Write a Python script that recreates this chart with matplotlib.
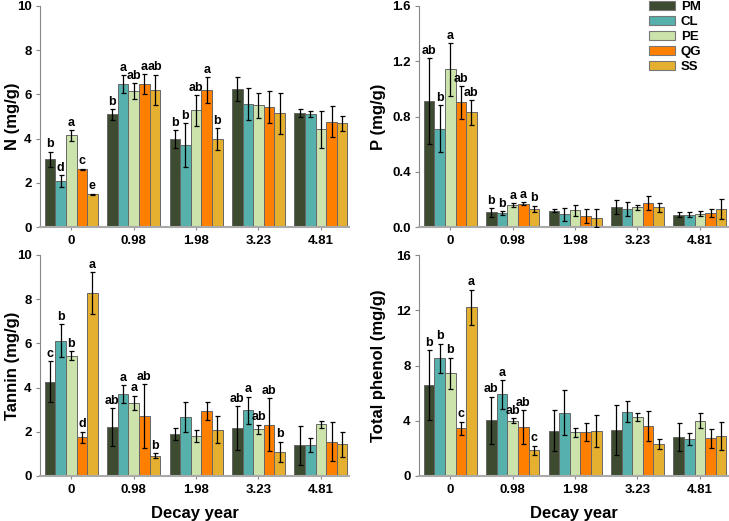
import numpy as np
import matplotlib
matplotlib.use("Agg")
import matplotlib.pyplot as plt

plt.rcParams['font.family'] = ['Liberation Sans', 'DejaVu Sans']
plt.rcParams['font.weight'] = 'bold'

years = ["0", "0.98", "1.98", "3.23", "4.81"]
species = ["PM", "CL", "PE", "QG", "SS"]
colors = ["#3d4b30", "#56b0ac", "#cce3ac", "#ff8000", "#e5b030"]

#-- values per species, one entry per decay year
n_mean = {
    "PM": [3.06, 5.10, 3.98, 6.24, 5.17],
    "CL": [2.08, 6.46, 3.70, 5.58, 5.10],
    "PE": [4.15, 6.14, 5.28, 5.50, 4.42],
    "QG": [2.61, 6.46, 6.20, 5.44, 4.77],
    "SS": [1.49, 6.20, 3.98, 5.14, 4.69],
}
n_err = {
    "PM": [0.35, 0.24, 0.40, 0.56, 0.17],
    "CL": [0.27, 0.40, 1.00, 0.73, 0.14],
    "PE": [0.24, 0.36, 0.70, 0.56, 0.85],
    "QG": [0.03, 0.46, 0.57, 0.73, 0.70],
    "SS": [0.02, 0.70, 0.48, 0.94, 0.35],
}
n_letters = [["b", "d", "a", "c", "e"],
             ["b", "a", "ab", "a", "ab"],
             ["b", "b", "ab", "a", "b"], None, None]

p_mean = {
    "PM": [0.912, 0.106, 0.118, 0.142, 0.089],
    "CL": [0.712, 0.099, 0.092, 0.128, 0.089],
    "PE": [1.141, 0.159, 0.121, 0.142, 0.097],
    "QG": [0.902, 0.169, 0.082, 0.171, 0.099],
    "SS": [0.830, 0.130, 0.068, 0.142, 0.130],
}
p_err = {
    "PM": [0.31, 0.030, 0.010, 0.050, 0.020],
    "CL": [0.17, 0.015, 0.045, 0.050, 0.020],
    "PE": [0.19, 0.015, 0.040, 0.020, 0.020],
    "QG": [0.12, 0.012, 0.050, 0.050, 0.030],
    "SS": [0.09, 0.025, 0.065, 0.030, 0.070],
}
p_letters = [["ab", "b", "a", "ab", "ab"],
             ["b", "b", "a", "a", "b"], None, None, None]

tan_mean = {
    "PM": [4.26, 2.20, 1.90, 2.17, 1.40],
    "CL": [6.13, 3.70, 2.67, 2.97, 1.40],
    "PE": [5.45, 3.32, 1.81, 2.11, 2.34],
    "QG": [1.75, 2.72, 2.93, 2.32, 1.55],
    "SS": [8.29, 0.92, 2.10, 1.10, 1.43],
}
tan_err = {
    "PM": [0.93, 0.86, 0.26, 1.00, 0.88],
    "CL": [0.74, 0.40, 0.70, 0.62, 0.30],
    "PE": [0.20, 0.32, 0.27, 0.22, 0.16],
    "QG": [0.25, 1.45, 0.40, 1.20, 0.88],
    "SS": [0.94, 0.12, 0.60, 0.45, 0.55],
}
tan_letters = [["c", "b", "b", "d", "a"],
               ["ab", "a", "a", "ab", "b"], None,
               ["ab", "a", "ab", "ab", "b"], None]

ph_mean = {
    "PM": [6.57, 4.03, 3.28, 3.33, 2.80],
    "CL": [8.52, 5.92, 4.59, 4.66, 2.70],
    "PE": [7.44, 4.00, 3.16, 4.25, 4.00],
    "QG": [3.45, 3.55, 3.16, 3.65, 2.73],
    "SS": [12.22, 1.86, 3.24, 2.29, 2.90],
}
ph_err = {
    "PM": [2.53, 1.72, 1.50, 1.81, 1.01],
    "CL": [1.06, 1.04, 1.62, 0.77, 0.43],
    "PE": [1.13, 0.17, 0.34, 0.29, 0.56],
    "QG": [0.48, 1.23, 0.65, 1.09, 0.70],
    "SS": [1.28, 0.34, 1.16, 0.36, 0.99],
}
ph_letters = [["b", "b", "b", "c", "a"],
              ["ab", "a", "ab", "ab", "c"], None, None, None]

panels = [
    (n_mean, n_err, n_letters, "N (mg/g)", 10, [0, 2, 4, 6, 8, 10], "%d"),
    (p_mean, p_err, p_letters, "P (mg/g)", 1.6, [0, 0.4, 0.8, 1.2, 1.6], "%.1f"),
    (tan_mean, tan_err, tan_letters, "Tannin (mg/g)", 10, [0, 2, 4, 6, 8, 10], "%d"),
    (ph_mean, ph_err, ph_letters, "Total phenol (mg/g)", 16, [0, 4, 8, 12, 16], "%d"),
]

fig = plt.figure(figsize=(7.29, 5.21), dpi=100)
W, H = 729, 521
boxes = [(40, 6), (419, 6), (40, 255), (419, 255)]
bw = 0.17
x = np.arange(len(years))

for (left, top), (mean, err, letters, ylab, ymax, yt, fmt) in zip(boxes, panels):
    ax = fig.add_axes([left / W, 1 - (top + 221) / H, 309 / W, 221 / H])
    for i, sp in enumerate(species):
        xs = x + (i - 2) * bw
        ax.bar(xs, mean[sp], width=bw, color=colors[i], edgecolor="#666666",
               linewidth=0.7, zorder=2)
        ax.errorbar(xs, mean[sp], yerr=err[sp], fmt="none", ecolor="black",
                    elinewidth=0.9, capsize=1.8, capthick=0.9, zorder=3)
        for g in range(len(years)):
            if letters[g] is None:
                continue
            ax.text(xs[g], mean[sp][g] + err[sp][g] + ymax * 0.006, letters[g][i],
                    ha="center", va="bottom", fontsize=9, fontweight="bold")
    ax.set_xlim(-0.5, 4.45)
    ax.set_ylim(0, ymax)
    ax.set_yticks(yt)
    ax.set_yticklabels([fmt % v for v in yt])
    ax.set_xticks(x)
    ax.set_xticklabels(years)
    ax.tick_params(axis="both", labelsize=9.5, colors="#888888", labelcolor="black",
                   length=3, width=0.8)
    ax.tick_params(axis="y", pad=3)
    ax.tick_params(axis="x", length=2, pad=4)
    for lbl in ax.get_xticklabels() + ax.get_yticklabels():
        lbl.set_fontweight("bold")
    for s in ["top", "right"]:
        ax.spines[s].set_visible(False)
    ax.spines["left"].set_color("#888888")
    ax.spines["left"].set_linewidth(0.8)
    ax.spines["bottom"].set_color("#aaaaaa")
    ax.spines["bottom"].set_linewidth(1.5)
    ax.set_ylabel(ylab, fontsize=12, fontweight="bold")
    # label coords give the right edge of the rotated text
    if left < 100:
        ax.yaxis.set_label_coords(-0.066, 0.5)
    else:
        ax.yaxis.set_label_coords(-0.106, 0.5)
    if top > 100:
        ax.set_xlabel("Decay year", fontsize=12, fontweight="bold", labelpad=7)
    if left > 100 and top < 100:
        handles = [plt.Rectangle((0, 0), 1, 1, facecolor=c, edgecolor="#777777",
                                 linewidth=0.8) for c in colors]
        leg = fig.legend(handles, species, loc="upper left", frameon=False,
                         fontsize=9.5, handlelength=2.0, handleheight=0.7,
                         labelspacing=0.22, handletextpad=0.4,
                         borderpad=0, borderaxespad=0,
                         bbox_to_anchor=(649 / W, 1 - 0.5 / H))
        for t in leg.get_texts():
            t.set_fontweight("bold")

fig.savefig("out.png", dpi=100)
